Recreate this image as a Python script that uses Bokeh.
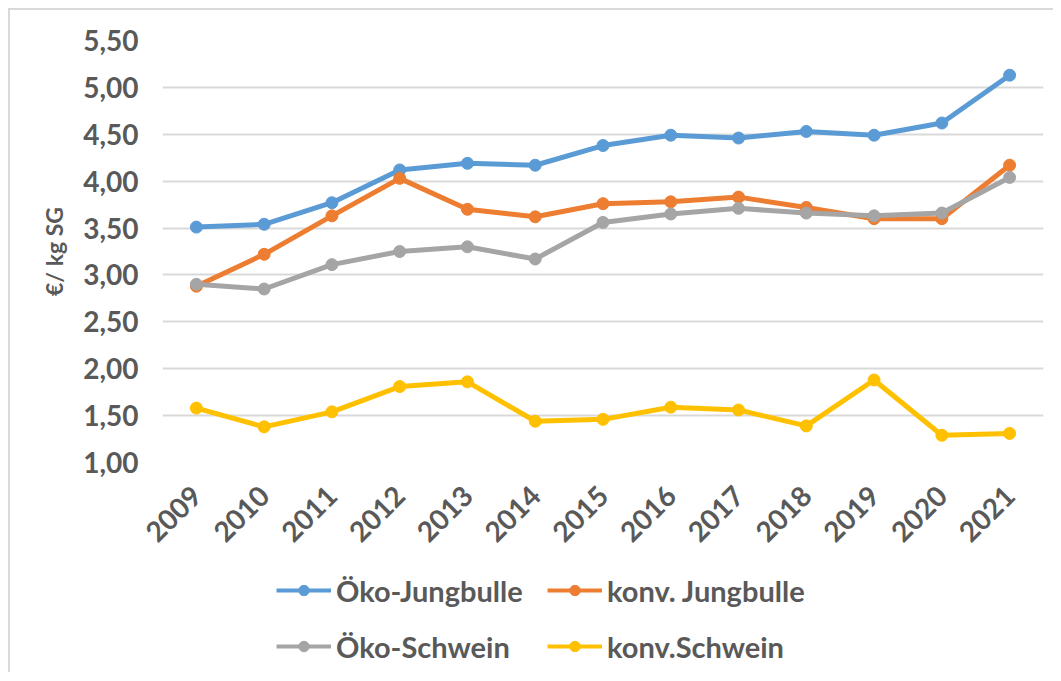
import math
from bokeh.plotting import figure
from bokeh.layouts import column
from bokeh.models import Range1d, FactorRange, FixedTicker, CustomJSTickFormatter, Legend, LegendItem
from bokeh.embed import file_html
from bokeh.resources import INLINE

# ---- data ----
years = ["2009", "2010", "2011", "2012", "2013", "2014", "2015",
         "2016", "2017", "2018", "2019", "2020", "2021"]
oeko_jungbulle = [3.51, 3.54, 3.77, 4.12, 4.19, 4.17, 4.38, 4.49, 4.46, 4.53, 4.49, 4.62, 5.13]
konv_jungbulle = [2.88, 3.22, 3.63, 4.03, 3.70, 3.62, 3.76, 3.78, 3.83, 3.72, 3.60, 3.60, 4.17]
oeko_schwein = [2.90, 2.85, 3.11, 3.25, 3.30, 3.17, 3.56, 3.65, 3.71, 3.66, 3.63, 3.66, 4.04]
konv_schwein = [1.58, 1.38, 1.54, 1.81, 1.86, 1.44, 1.46, 1.59, 1.56, 1.39, 1.88, 1.29, 1.31]
series_names = ["Öko-Jungbulle", "konv. Jungbulle", "Öko-Schwein", "konv.Schwein"]
series_values = [oeko_jungbulle, konv_jungbulle, oeko_schwein, konv_schwein]
y_ticks = [1.0, 1.5, 2.0, 2.5, 3.0, 3.5, 4.0, 4.5, 5.0, 5.5]
y_label = "€/ kg SG"

# ---- styles ----
colors = ["#5B9BD5", "#ED7D31", "#A5A5A5", "#FFC000"]
FONT = "Lato"
TXT = "#595959"
GRID = "#D9D9D9"

p = figure(x_range=FactorRange(*years), y_range=Range1d(1.0, 5.5),
           frame_width=881, frame_height=422,
           min_border_left=152, min_border_right=10,
           min_border_top=30, min_border_bottom=100,
           output_backend="svg", toolbar_location=None)
p.outline_line_color = None
p.background_fill_color = "white"
p.border_fill_color = "white"

p.xgrid.grid_line_color = None
p.ygrid.grid_line_color = GRID
p.ygrid.grid_line_width = 2

p.yaxis.ticker = FixedTicker(ticks=y_ticks)
p.yaxis.formatter = CustomJSTickFormatter(code="return tick.toFixed(2).replace('.', ',');")
for ax in (p.xaxis[0], p.yaxis[0]):
    ax.axis_line_color = None
    ax.major_tick_line_color = None
    ax.minor_tick_line_color = None
    ax.major_tick_out = 0
    ax.major_tick_in = 0
    ax.major_label_text_font = FONT
    ax.major_label_text_font_style = "bold"
    ax.major_label_text_font_size = "28px"
    ax.major_label_text_color = TXT

p.yaxis.major_label_standoff = 24
p.yaxis.axis_label = y_label
p.yaxis.axis_label_text_font = FONT
p.yaxis.axis_label_text_font_style = "bold"
p.yaxis.axis_label_text_font_size = "23px"
p.yaxis.axis_label_text_color = TXT
p.yaxis.axis_label_standoff = 12

p.xaxis.major_label_orientation = math.pi / 4
p.xaxis.major_label_standoff = 28

for vals, col in zip(series_values, colors):
    p.line(years, vals, line_color=col, line_width=5, line_join="round")
    p.scatter(years, vals, marker="circle", size=12, fill_color=col, line_color=col)

# ---- legend strip (separate figure; hidden copies of the series provide the legend keys) ----
p2 = figure(width=1043, height=110, min_border=0,
            x_range=FactorRange(*years), y_range=Range1d(1.0, 5.5),
            output_backend="svg", toolbar_location=None)
p2.axis.visible = False
p2.grid.visible = False
p2.outline_line_color = None
item_map = {}
for name, vals, col in zip(series_names, series_values, colors):
    lr = p2.line(years, vals, line_color=col, line_width=4, visible=False)
    sr = p2.scatter(years, vals, marker="circle", size=10, fill_color=col, line_color=col, visible=False)
    item_map[name] = LegendItem(label=name, renderers=[lr, sr])

# legend fills column by column: order so that rows read as in the reference
order = [series_names[0], series_names[2], series_names[1], series_names[3]]
lg = Legend(items=[item_map[n] for n in order], ncols=2, location=(114, 4))
lg.border_line_color = None
lg.background_fill_alpha = 0
lg.padding = 0
lg.margin = 0
lg.spacing = 12
lg.glyph_width = 55
lg.glyph_height = 26
lg.label_height = 44
lg.label_width = 199
lg.label_standoff = 5
lg.label_text_font = FONT
lg.label_text_font_style = "bold"
lg.label_text_font_size = "29px"
lg.label_text_color = TXT
p2.add_layout(lg, "center")

layout = column(p, p2, spacing=0,
                styles={"margin-left": "8px", "margin-top": "8px",
                        "border-left": "2px solid #D9D9D9", "border-top": "2px solid #D9D9D9"})

open("out.html", "w").write(file_html(layout, INLINE))
